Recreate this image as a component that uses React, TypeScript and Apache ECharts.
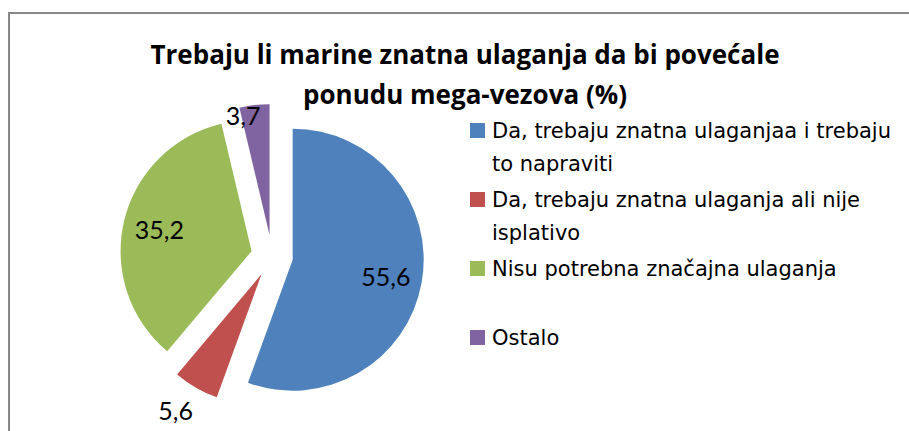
import React, { useEffect, useRef } from "react";
import * as echarts from "echarts";

const titleLines = [
  "Trebaju li marine znatna ulaganja da bi povećale",
  "ponudu mega-vezova (%)",
];
const categories = [
  "Da, trebaju znatna ulaganjaa i trebaju to napraviti",
  "Da, trebaju znatna ulaganja ali nije isplativo",
  "Nisu potrebna značajna ulaganja",
  "Ostalo",
];
const values = [55.6, 5.6, 35.2, 3.7];
const colors = ["#4F81BD", "#C0504D", "#9BBB59", "#8064A2"];
const wrapsToTwoLines = [true, true, false, false];

export default function App() {
  const ref = useRef<HTMLDivElement>(null);
  useEffect(() => {
    if (!ref.current) return;
    const chart = echarts.init(ref.current, null, { renderer: "svg" });
    const R = 131;
    const center = [272, 256];
    const lineH = 33;
    const labelCfg = [
      { position: "inside" },
      { position: "outside" },
      { position: "inside" },
      { position: "outside" },
    ];
    const labelLineCfg = [
      { show: false },
      { show: false, length: 26, length2: -10 },
      { show: false },
      { show: false, length: -10, length2: -5 },
    ];
    chart.setOption({
      animation: false,
      backgroundColor: "#ffffff",
      title: {
        text: titleLines.join("\n"),
        left: 465,
        top: 34,
        textAlign: "center",
        padding: 0,
        textStyle: {
          fontFamily: "Open Sans",
          fontWeight: "bold",
          fontSize: 26,
          lineHeight: 40,
          color: "#000",
        },
      },
      legend: {
        orient: "vertical",
        left: 470,
        top: 81,
        padding: 0,
        itemWidth: 15,
        itemHeight: 15,
        itemGap: 69 - 3 * lineH,
        icon: "rect",
        selectedMode: false,
        formatter: (name: string) => {
          const i = categories.indexOf(name);
          return wrapsToTwoLines[i] ? "\n" + name : "\u00a0\n" + name + "\n\u00a0";
        },
        textStyle: {
          fontFamily: "DejaVu Sans",
          fontSize: 21,
          color: "#000",
          width: 414,
          overflow: "break",
          lineHeight: lineH,
          padding: [0, 0, 0, 2],
        },
        data: categories,
      },
      graphic: [
        {
          type: "rect",
          shape: { x: 9, y: 13, width: 1000, height: 600 },
          style: { fill: "none", stroke: "#878787", lineWidth: 2 },
          silent: true,
        },
      ],
      series: [
        {
          type: "pie",
          center,
          radius: [0, R],
          startAngle: 90,
          clockwise: true,
          selectedMode: "multiple",
          selectedOffset: 21,
          avoidLabelOverlap: false,
          emphasis: { disabled: true },
          label: { show: false },
          labelLine: { show: false },
          data: categories.map((name, i) => ({
            name,
            value: values[i],
            selected: true,
            itemStyle: { color: colors[i] },
          })),
        },
        {
          type: "pie",
          center,
          radius: [R * 0.4, R],
          startAngle: 90,
          clockwise: true,
          selectedMode: "multiple",
          selectedOffset: 21,
          avoidLabelOverlap: false,
          silent: true,
          emphasis: { disabled: true },
          itemStyle: { color: "rgba(0,0,0,0)" },
          label: {
            show: true,
            fontFamily: "Lato",
            fontSize: 25,
            color: "#000",
            distanceToLabelLine: 0,
            formatter: (p: any) => String(p.value).replace(".", ","),
          },
          data: categories.map((name, i) => ({
            name,
            value: values[i],
            selected: true,
            label: labelCfg[i],
            labelLine: labelLineCfg[i],
          })),
        },
      ],
    });
    return () => chart.dispose();
  }, []);
  return (
    <div
      ref={ref}
      style={{ position: "fixed", left: 0, top: 0, width: 909, height: 431 }}
    />
  );
}
